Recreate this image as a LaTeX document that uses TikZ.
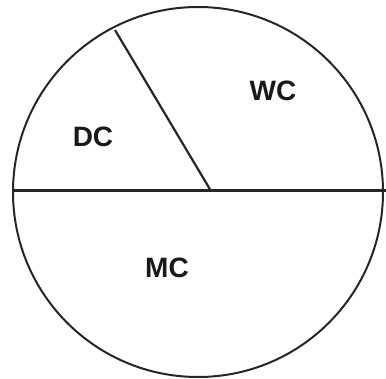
\documentclass[tikz,border=0pt]{standalone}
\usepackage{fontspec}
\setmainfont{Liberation Sans}
\begin{document}
\begin{tikzpicture}[x=1pt,y=-1pt,
  lbl/.style={font=\fontsize{28}{32}\selectfont\bfseries, text=black!90, inner sep=0pt},
  rim/.style={line width=2pt, draw=black!85},
  cut/.style={line width=3pt, draw=black!85},
  ray/.style={line width=2.2pt, draw=black!85}]
\useasboundingbox (0,0) rectangle (386,379);
\clip (0,0) rectangle (386,379);
\coordinate (o) at (198,192);
\draw[rim] (o) circle (185);
\coordinate (L) at (13,191);
\coordinate (R) at (390,191);
\coordinate (P) at (211,191);
\coordinate (T) at (115,30);
\draw[cut] (L) -- (R);
\draw[ray] (P) -- (T);
\node[lbl] (wc) at (273,91) {WC};
\node[lbl] (dc) at (93,137) {DC};
\node[lbl] (mc) at (167,268) {MC};
\end{tikzpicture}
\end{document}
